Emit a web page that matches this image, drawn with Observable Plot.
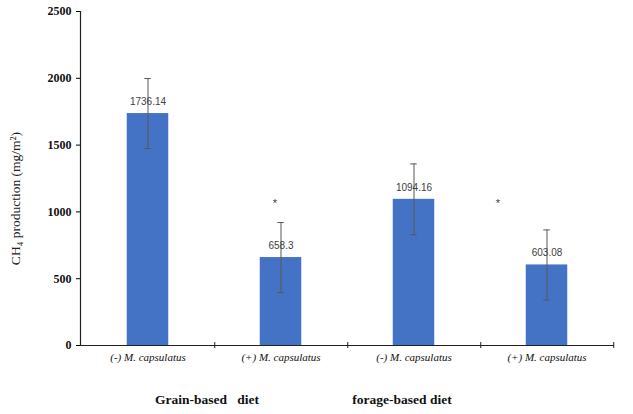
<!DOCTYPE html>
<html><head><meta charset="utf-8">
<script src="https://cdn.jsdelivr.net/npm/d3@7"></script>
<script src="https://cdn.jsdelivr.net/npm/@observablehq/plot@0.6"></script>
<style>body{margin:0;background:#fff}</style>
</head><body><div id="chart"></div>
<script>
const categories = ["g-", "g+", "f-", "f+"];
const tickLabels = ["(-) M. capsulatus", "(+) M. capsulatus", "(-) M. capsulatus", "(+) M. capsulatus"];
const values = [1736.14, 658.3, 1094.16, 603.08];
const errors = [262, 262, 265, 262];
const yTicks = [0, 500, 1000, 1500, 2000, 2500];
const starCats = ["g+", "f+"];
const starLevel = [1060, 1060];
const groupCats = ["g-", "f-"];
const groupLabels = ["Grain-based\u2002 diet", "forage-based diet"];

const labelOf = new Map(categories.map((c, i) => [c, tickLabels[i]]));
const rows = categories.map((c, i) => ({c, v: values[i], lo: values[i] - errors[i], hi: values[i] + errors[i]}));
const stars = starCats.map((c, i) => ({c, v: starLevel[i]}));
const groups = groupCats.map((c, i) => ({c, t: groupLabels[i]}));

const W = 633, H = 414, mL = 80, mR = 19, mT = 11, mB = 69;
const bw = (W - mL - mR) / categories.length;
const barW = 42;
const serif = "Liberation Serif, Times New Roman, serif";
const sans = "Liberation Sans, Arial, sans-serif";

const chart = Plot.plot({
  width: W, height: H,
  marginLeft: mL, marginRight: mR, marginTop: mT, marginBottom: mB,
  style: {background: "#fff", overflow: "visible"},
  x: {domain: categories, padding: 0},
  y: {domain: [0, 2500]},
  marks: [
    Plot.barY(rows, {x: "c", y: "v", fill: "#4472C4", insetLeft: (bw - barW) / 2, insetRight: (bw - barW) / 2}),
    Plot.ruleX(rows, {x: "c", y1: "lo", y2: "hi", stroke: "#595959", strokeWidth: 1}),
    Plot.tickY(rows, {x: "c", y: "lo", stroke: "#595959", insetLeft: (bw - 7) / 2, insetRight: (bw - 7) / 2}),
    Plot.tickY(rows, {x: "c", y: "hi", stroke: "#595959", insetLeft: (bw - 7) / 2, insetRight: (bw - 7) / 2}),
    Plot.text(rows, {x: "c", y: "v", text: d => String(d.v), dy: -12, fontFamily: sans, fontSize: 10, fill: "#404040"}),
    Plot.text([stars[0]], {x: "c", y: "v", text: () => "*", dx: -6, fontFamily: sans, fontSize: 11, fill: "#404040"}),
    Plot.text([stars[1]], {x: "c", y: "v", text: () => "*", dx: -49, fontFamily: sans, fontSize: 11, fill: "#404040"}),
    Plot.ruleY([0], {stroke: "#222", strokeWidth: 1.2}),
    Plot.ruleX(categories, {x: d => d, y1: 0, y2: 0, dx: bw / 2, insetTop: -3, insetBottom: -3, stroke: "#222"}),
    Plot.frame({anchor: "left", stroke: "#222", strokeWidth: 1.2}),
    Plot.axisY({ticks: yTicks, tickFormat: d3.format("d"), tickSize: 4, tickPadding: 5, fontFamily: serif, fontSize: 12, fontWeight: "bold", fill: "#111", label: null}),
    Plot.axisX({tickSize: 0, tickPadding: 8, tickFormat: d => labelOf.get(d), fontFamily: serif, fontSize: 11, fontStyle: "italic", fill: "#111", label: null}),
    Plot.text([groups[0]], {x: "c", text: "t", frameAnchor: "bottom", dx: 59, dy: 58, fontFamily: serif, fontSize: 13.5, fontWeight: "bold", fill: "#111"}),
    Plot.text([groups[1]], {x: "c", text: "t", frameAnchor: "bottom", dx: -12, dy: 58, fontFamily: serif, fontSize: 13.5, fontWeight: "bold", fill: "#111"}),
    Plot.text(["CH\u2084 production (mg/m\u00B2)"], {text: d => d, frameAnchor: "left", textAnchor: "middle", dx: -65, dy: 20, rotate: -90, fontFamily: serif, fontSize: 13.5, fill: "#222"})
  ]
});
document.getElementById("chart").appendChild(chart);
</script>
</body></html>
